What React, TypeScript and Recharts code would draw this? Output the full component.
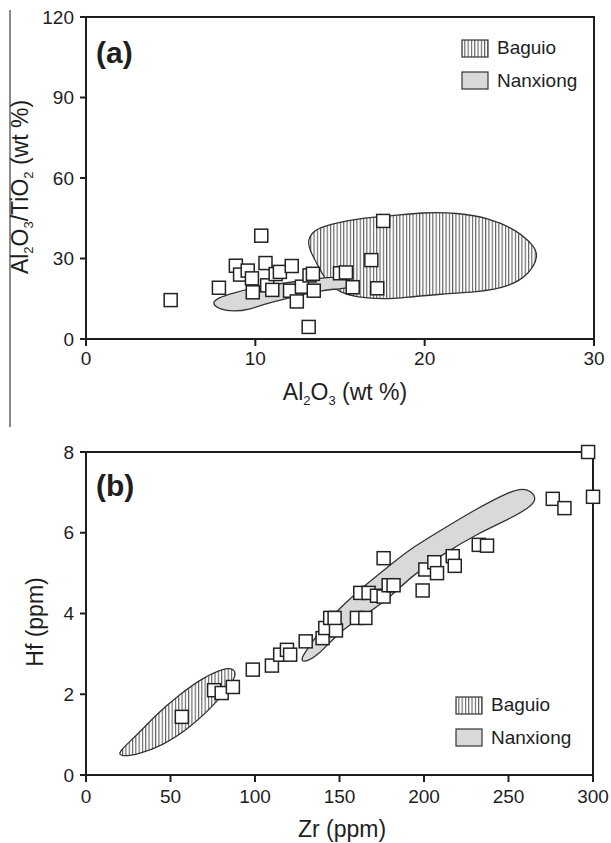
import React from "react";
import { Legend, ReferenceArea, Scatter, ScatterChart, XAxis, YAxis } from "recharts";

type Pt = [number, number];

// panel (a): Al2O3 (wt %) vs Al2O3/TiO2
const samplesA: Pt[] = [
  [5.0, 14.5], [7.85, 19.1], [8.85, 27.3], [9.1, 24], [9.55, 25.5], [9.8, 22.6], [9.85, 17.4],
  [10.35, 38.5], [10.6, 28.3], [10.7, 20], [11.0, 18.3], [11.2, 24.2], [11.45, 25], [12.05, 18],
  [12.15, 27.2], [12.45, 14], [12.75, 19.5], [13.2, 23.7], [13.4, 24.3], [13.45, 18], [13.15, 4.5],
  [15.0, 24.5], [15.35, 24.8], [15.75, 19.3], [16.85, 29.4], [17.2, 18.9], [17.55, 44],
];

const baguioA: Pt[] = [
  [13.33, 39.4], [13.82, 41.9], [15.99, 45.0], [17.96, 45.8], [19.91, 47.2], [21.9, 47.1],
  [23.86, 45.0], [25.44, 40.6], [26.52, 34.4], [26.7, 30.7], [26.23, 24.5], [25.04, 19.5],
  [23.08, 17.4], [20.91, 16.8], [18.94, 15.5], [17.56, 14.8], [15.99, 15.5], [15.0, 17.4],
  [14.41, 20.1], [13.92, 24.5], [13.63, 28.2], [13.2, 33.2], [13.1, 36.9],
];

const nanxiongA: Pt[] = [
  [7.4, 13.3], [7.9, 11.0], [8.7, 10.2], [9.7, 11.0], [10.7, 13.4], [12.6, 16.2], [14.0, 18.3],
  [15.4, 18.8], [16.1, 20.5], [15.3, 22.8], [14.4, 23.2], [12.8, 21.7], [11.6, 20.8], [10.0, 19.2],
  [8.7, 17.2], [7.8, 15.4],
];

const xTicksA = [0, 10, 20, 30];
const yTicksA = [0, 30, 60, 90, 120];

// panel (b): Zr vs Hf (ppm)
const samplesB: Pt[] = [
  [56.7, 1.44], [75.8, 2.1], [80.3, 2.03], [86.9, 2.18], [98.7, 2.61], [110, 2.71], [114.9, 2.98],
  [118.9, 3.1], [120.8, 2.98], [130, 3.31], [140, 3.39], [141.6, 3.64], [144.5, 3.89], [147.9, 3.58],
  [147.1, 3.89], [160.3, 3.89], [165.3, 3.89], [162.3, 4.51], [167.2, 4.51], [172.2, 4.44],
  [176.1, 4.42], [179.1, 4.7], [182, 4.7], [176.1, 5.37], [199.2, 4.57], [200.8, 5.09],
  [206.1, 5.27], [207.7, 5.0], [217, 5.42], [218.2, 5.18], [232.4, 5.7], [237.3, 5.68],
  [276.2, 6.84], [283.1, 6.61], [300, 6.89], [297.1, 8.0],
];

const baguioB: Pt[] = [
  [18.5, 0.55], [30, 0.98], [42, 1.52], [55, 1.98], [68, 2.38], [81, 2.64], [88, 2.65], [89, 2.4],
  [78, 1.83], [62, 1.18], [45, 0.72], [30, 0.5], [21, 0.46],
];

const nanxiongB: Pt[] = [
  [127, 2.88], [132.6, 3.22], [142.5, 3.8], [152.3, 4.22], [166.2, 4.74], [180, 5.2], [191.8, 5.6],
  [211.5, 6.1], [231.3, 6.6], [251, 7.03], [261, 7.14], [269.5, 6.78], [251, 6.35], [231.3, 5.97],
  [211.5, 5.48], [191.8, 4.9], [180, 4.4], [166.2, 3.99], [150.4, 3.58], [136.6, 2.92], [128.5, 2.78],
];

const xTicksB = [0, 50, 100, 150, 200, 250, 300];
const yTicksB = [0, 2, 4, 6, 8];

const legendNames = ["Baguio", "Nanxiong"];

const FONT = '"Liberation Sans", Arial, Helvetica, sans-serif';
const INK = "#1e1e1e";
const GREY = "#d9d9d9";

const toRows = (pts: Pt[]) => pts.map(([x, y]) => ({ x, y }));

const SquareDot = (props: any) => (
  <rect
    x={props.cx - 6.5}
    y={props.cy - 6.5}
    width={13}
    height={13}
    fill="#fff"
    stroke="#222"
    strokeWidth={1.5}
  />
);

const NoDot = () => <g />;

function Hatch({ id }: { id: string }) {
  return (
    <defs>
      <pattern id={id} patternUnits="userSpaceOnUse" width={3.3} height={10}>
        <rect width={3.3} height={10} fill="#fff" />
        <line x1={0.6} y1={0} x2={0.6} y2={10} stroke="#3a3a3a" strokeWidth={0.9} />
      </pattern>
    </defs>
  );
}

function LegendBox({ hatchId }: { hatchId: string }) {
  return (
    <div style={{ fontFamily: FONT, fontSize: 19, color: INK }}>
      {legendNames.map((name, i) => (
        <div key={name} style={{ display: "flex", alignItems: "center", height: 32.5 }}>
          <svg width={29} height={19} style={{ display: "block" }}>
            <rect
              x={1}
              y={1}
              width={26}
              height={17}
              fill={i === 0 ? `url(#${hatchId})` : GREY}
              stroke="#333"
              strokeWidth={1.2}
            />
          </svg>
          <span style={{ marginLeft: 7 }}>{name}</span>
        </div>
      ))}
    </div>
  );
}

const tickStyle = { fontSize: 19, fill: INK, fontFamily: FONT };

const sub = (t: string) => (
  <span style={{ fontSize: 13, position: "relative", top: 5 }}>{t}</span>
);

const textBase: React.CSSProperties = {
  position: "absolute",
  fontFamily: FONT,
  fontSize: 23,
  lineHeight: "23px",
  color: INK,
  whiteSpace: "nowrap",
};

export default function App() {
  return (
    <div style={{ position: "absolute", left: 0, top: 0, width: 611, height: 843, background: "#fff" }}>
      <div style={{ position: "absolute", left: 9, top: 10, width: 2, height: 417, background: "#8a8a8a" }} />

      <div style={{ position: "absolute", left: 0, top: 0 }}>
        <ScatterChart width={611} height={420} margin={{ top: 17, right: 17, bottom: 0, left: 0 }}>
          <Hatch id="hatchA" />
          <XAxis
            type="number"
            dataKey="x"
            domain={[0, 30]}
            ticks={xTicksA}
            height={81}
            axisLine={{ stroke: INK, strokeWidth: 2 }}
            tickLine={{ stroke: INK, strokeWidth: 2 }}
            tickSize={7}
            tickMargin={6}
            tick={tickStyle}
          />
          <YAxis
            type="number"
            dataKey="y"
            domain={[0, 120]}
            ticks={yTicksA}
            width={86}
            axisLine={{ stroke: INK, strokeWidth: 2 }}
            tickLine={{ stroke: INK, strokeWidth: 2 }}
            tickSize={6}
            tickMargin={6}
            tick={tickStyle}
          />
          <ReferenceArea x1={0} x2={30} y1={0} y2={120} fill="none" stroke={INK} strokeWidth={2} />
          <Scatter
            data={toRows(baguioA)}
            shape={NoDot}
            line={{ fill: "url(#hatchA)", stroke: "#333", strokeWidth: 1.3 }}
            lineJointType="basisClosed"
            isAnimationActive={false}
          />
          <Scatter
            data={toRows(nanxiongA)}
            shape={NoDot}
            line={{ fill: GREY, stroke: "#333", strokeWidth: 1.3 }}
            lineJointType="basisClosed"
            isAnimationActive={false}
          />
          <Scatter data={toRows(samplesA)} shape={SquareDot} isAnimationActive={false} />
          <Legend
            layout="horizontal"
            align="center"
            verticalAlign="middle"
            wrapperStyle={{ left: 461, top: 32, width: 140 }}
            content={() => <LegendBox hatchId="hatchA" />}
          />
        </ScatterChart>
      </div>

      <div style={{ position: "absolute", left: 0, top: 420 }}>
        <ScatterChart width={611} height={423} margin={{ top: 32, right: 18, bottom: 0, left: 0 }}>
          <Hatch id="hatchB" />
          <XAxis
            type="number"
            dataKey="x"
            domain={[0, 300]}
            ticks={xTicksB}
            height={68}
            axisLine={{ stroke: INK, strokeWidth: 2 }}
            tickLine={{ stroke: INK, strokeWidth: 2 }}
            tickSize={7}
            tickMargin={8}
            tick={tickStyle}
          />
          <YAxis
            type="number"
            dataKey="y"
            domain={[0, 8]}
            ticks={yTicksB}
            width={86}
            axisLine={{ stroke: INK, strokeWidth: 2 }}
            tickLine={{ stroke: INK, strokeWidth: 2 }}
            tickSize={6}
            tickMargin={6}
            tick={tickStyle}
          />
          <ReferenceArea x1={0} x2={300} y1={0} y2={8} fill="none" stroke={INK} strokeWidth={2} />
          <Scatter
            data={toRows(baguioB)}
            shape={NoDot}
            line={{ fill: "url(#hatchB)", stroke: "#333", strokeWidth: 1.3 }}
            lineJointType="basisClosed"
            isAnimationActive={false}
          />
          <Scatter
            data={toRows(nanxiongB)}
            shape={NoDot}
            line={{ fill: GREY, stroke: "#333", strokeWidth: 1.3 }}
            lineJointType="basisClosed"
            isAnimationActive={false}
          />
          <Scatter data={toRows(samplesB)} shape={SquareDot} isAnimationActive={false} />
          <Legend
            layout="horizontal"
            align="center"
            verticalAlign="middle"
            wrapperStyle={{ left: 455, top: 269, width: 150 }}
            content={() => <LegendBox hatchId="hatchB" />}
          />
        </ScatterChart>
      </div>

      {/* panel labels */}
      <div style={{ ...textBase, left: 96, top: 38, fontSize: 30, lineHeight: "30px", fontWeight: 700 }}>(a)</div>
      <div style={{ ...textBase, left: 96, top: 471, fontSize: 30, lineHeight: "30px", fontWeight: 700 }}>(b)</div>

      {/* axis titles */}
      <div style={{ ...textBase, left: 345, top: 381, transform: "translateX(-50%)" }}>
        Al{sub("2")}O{sub("3")} (wt %)
      </div>
      <div style={{ ...textBase, left: 22, top: 187, transform: "translate(-50%, -50%) rotate(-90deg)" }}>
        Al{sub("2")}O{sub("3")}/TiO{sub("2")} (wt %)
      </div>
      <div style={{ ...textBase, left: 342, top: 818, transform: "translateX(-50%)" }}>Zr (ppm)</div>
      <div style={{ ...textBase, left: 35, top: 622, transform: "translate(-50%, -50%) rotate(-90deg)" }}>
        Hf (ppm)
      </div>
    </div>
  );
}
